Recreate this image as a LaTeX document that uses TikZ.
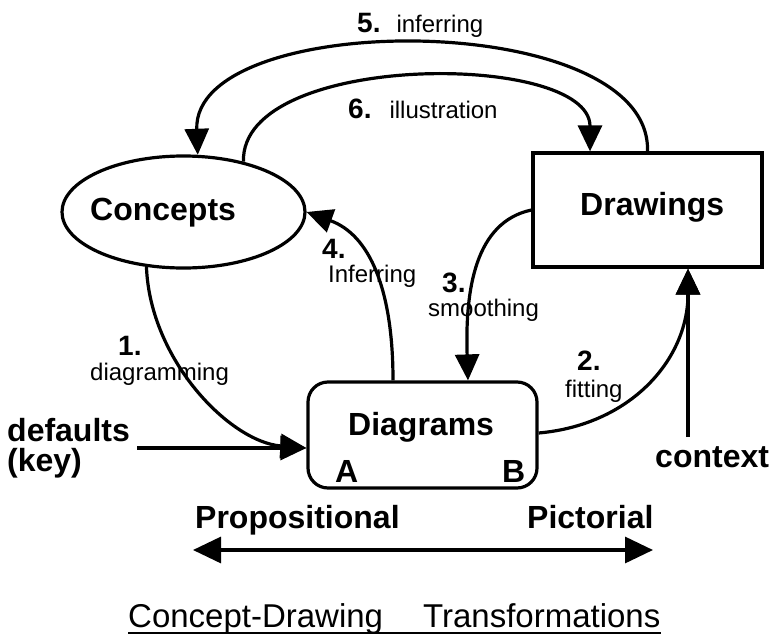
\documentclass[tikz,border=0pt]{standalone}
\usepackage{fontspec}
\setmainfont{Liberation Sans}
\usetikzlibrary{arrows.meta,shapes.geometric}
\newcommand{\bigbold}{\fontsize{32}{36}\selectfont\bfseries}
\newcommand{\numfont}{\fontsize{28}{32}\selectfont\bfseries}
\newcommand{\smalllab}{\fontsize{24}{28}\selectfont}
\begin{document}
\begin{tikzpicture}[x=1pt,y=-1pt,
  flow/.style={line width=3.2pt, -{Triangle[length=26pt,width=24pt]}},
  shapeline/.style={draw, line width=3.2pt, inner sep=0pt},
  txt/.style={inner sep=0pt, anchor=base west},
]
\useasboundingbox (0,0) rectangle (770,637);

% the three representations
\node[shapeline, ellipse, minimum width=243pt, minimum height=112pt] (concepts) at (183.5,212) {};
\node[shapeline, rectangle, minimum width=229pt, minimum height=114pt] (drawings) at (647.5,210) {};
\node[shapeline, rectangle, rounded corners=20pt, minimum width=229pt, minimum height=106pt] (diagrams) at (422.5,435) {};

\node[txt] (conceptsText) at (90,220) {\bigbold Concepts};
\node[txt] (drawingsText) at (580,215) {\bigbold Drawings};
\node[txt] (diagramsText) at (348,435) {\bigbold Diagrams};
\node[txt] (portA) at (335,482) {\bigbold A};
\node[txt] (portB) at (502,482) {\bigbold B};

% outside inputs
\node[txt] (defaultsText) at (7,441) {\bigbold defaults};
\node[txt] (keyText) at (7,471) {\bigbold (key)};
\node[txt] (contextText) at (655,467) {\bigbold context};
\coordinate (defaultsEnd) at (137,448);
\coordinate (contextTop) at (688,437);

% transformation labels
\node[txt] (lab5) at (357,32) {{\numfont 5.}\hspace{16pt}{\smalllab inferring}};
\node[txt] (lab6) at (348,118) {{\numfont 6.}\hspace{18pt}{\smalllab illustration}};
\node[txt] (num4) at (322,258) {\numfont 4.};
\node[txt] (lab4) at (328,282) {\smalllab Inferring};
\node[txt] (num3) at (442,292) {\numfont 3.};
\node[txt] (lab3) at (428,316) {\smalllab smoothing};
\node[txt] (num1) at (118,355) {\numfont 1.};
\node[txt] (lab1) at (90,380) {\smalllab diagramming};
\node[txt] (num2) at (577,370) {\numfont 2.};
\node[txt] (lab2) at (565,397) {\smalllab fitting};

% transformations
\draw[flow] (drawings.north) .. controls (652,8) and (192,8) .. (concepts.76);
\draw[flow] (concepts.40) .. controls (240,51) and (590,51) .. ([xshift=-57.5pt]drawings.north);
\draw[flow] (concepts.236) .. controls (150,360) and (230,442) .. ([yshift=-13pt]diagrams.west);
\draw[flow] (defaultsEnd) -- ([yshift=-13pt]diagrams.west);
\draw[flow] ([yshift=2pt]diagrams.east) .. controls (630,425) and (688,360) .. ([xshift=40.5pt]drawings.south);
\draw[flow] (contextTop) -- ([xshift=40.5pt]drawings.south);
\draw[flow] (drawings.west) .. controls (475,222) and (465,290) .. ([xshift=45.5pt]diagrams.north);
\draw[flow] ([xshift=-29.5pt]diagrams.north) .. controls (393,290) and (370,235) .. (concepts.east);

% propositional / pictorial scale
\node[txt] (propText) at (195,528) {\bigbold Propositional};
\node[txt] (pictText) at (527,528) {\bigbold Pictorial};
\coordinate (propL) at (193,550);
\coordinate (propR) at (653,550);
\draw[line width=3.2pt, {Triangle[length=28pt,width=26pt]}-{Triangle[length=28pt,width=26pt]}] (propL) -- (propR);

% caption
\node[txt] (title) at (128,627) {\fontsize{33}{36}\selectfont Concept-Drawing\hspace{40pt}Transformations};
\draw[line width=2pt] ([yshift=-6pt]title.base west) -- ([yshift=-6pt]title.base east);
\end{tikzpicture}
\end{document}
